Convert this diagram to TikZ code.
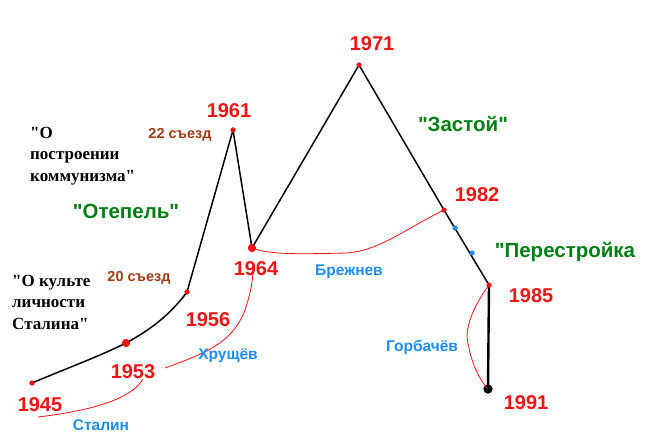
\documentclass[tikz,border=0pt]{standalone}
\usepackage{fontspec}
\setmainfont{Liberation Sans}[Ligatures=TeXOff]
\newfontfamily\serifbold{Liberation Serif}
\newcommand\qmark{{\char34}}
\definecolor{yred}{RGB}{240,20,20}
\definecolor{pgreen}{RGB}{0,128,20}
\definecolor{lblue}{RGB}{30,140,240}
\definecolor{cbrown}{RGB}{160,60,20}
\tikzset{
  year/.style={font=\bfseries\fontsize{20}{20}\selectfont, text=yred, inner sep=0pt},
  period/.style={font=\bfseries\fontsize{20.5}{20}\selectfont, text=pgreen, inner sep=0pt},
  leader/.style={font=\bfseries\fontsize{15.5}{15}\selectfont, text=lblue, inner sep=0pt},
  congress/.style={font=\bfseries\fontsize{14.5}{14}\selectfont, text=cbrown, inner sep=0pt},
  quote/.style={font=\serifbold\bfseries\fontsize{17}{21.5}\selectfont, align=left, inner sep=0pt, anchor=north west},
  pt/.style={circle, fill=yred, inner sep=0pt, minimum size=5pt},
  bigpt/.style={circle, fill=yred, inner sep=0pt, minimum size=8pt},
  bluept/.style={circle, fill=lblue, inner sep=0pt, minimum size=5pt},
  blackpt/.style={circle, fill=black, inner sep=0pt, minimum size=9pt},
  path/.style={black, line width=1.5pt},
  era/.style={yred, line width=0.8pt},
}
\begin{document}
\begin{tikzpicture}[x=1pt,y=-1pt]
\useasboundingbox[fill=white] (0,0) rectangle (668,447);
% points
\node[pt] (p45) at (32,383) {};
\node[bigpt] (p53) at (126,343) {};
\node[pt] (p56) at (187,292) {};
\node[pt] (p61) at (233,130) {};
\node[bigpt] (p64) at (252,248) {};
\node[pt] (p71) at (359,65) {};
\node[pt] (p82) at (444,210) {};
\node[bluept] (b1) at (455,228) {};
\node[bluept] (b2) at (472,253) {};
\node[pt] (p85) at (489,285) {};
\node[blackpt] (p91) at (488,389) {};
% main line
\draw[path] (p45.center) .. controls (70,367) and (100,356) .. (p53.center)
  .. controls (150,330) and (170,315) .. (p56.center)
  -- (p61.center) -- (p64.center) -- (p71.center) -- (p82.center) -- (p85.center);
\draw[black, line width=2.4pt] (p85.center) -- (p91.center);
\foreach \n in {p45,p53,p56,p61,p64,p71,p82,p85} \node[pt] at (\n) {};
\node[bigpt] at (p53) {};
\node[bigpt] at (p64) {};
\node[bluept] at (b1) {};
\node[bluept] at (b2) {};
\node[blackpt] at (p91) {};
% era curves
\coordinate (s1) at (38,417);
\coordinate (s2) at (143,379);
\draw[era] (s1) .. controls (80,412) and (130,402) .. (s2);
\coordinate (h1) at (165,368);
\coordinate (h2) at (253,273);
\draw[era] (h1) .. controls (200,355) and (232,345) .. (245,310) .. controls (250,295) and (252,285) .. (h2);
\draw[era] (p64.center) .. controls (270,255) and (300,254) .. (347,253) .. controls (380,250) and (400,232) .. (p82.center);
\draw[era] (p85.center) .. controls (478,300) and (467,320) .. (467,337) .. controls (470,360) and (478,378) .. (p91.center);
% year labels
\node[year] (y45) at (40,405) {1945};
\node[year] (y53) at (133,372) {1953};
\node[year] (y56) at (208,320) {1956};
\node[year] (y61) at (229,111) {1961};
\node[year] (y64) at (256,269) {1964};
\node[year] (y71) at (372,44) {1971};
\node[year] (y82) at (477,195) {1982};
\node[year] (y85) at (531,296) {1985};
\node[year] (y91) at (526,403) {1991};
% congress
\node[congress] (c20) at (139,278) {20 съезд};
\node[congress] (c22) at (180,135) {22 съезд};
% quotes
\node[quote] (q1) at (30,127) {\qmark О\\построении\\коммунизма\qmark};
\node[quote] (q2) at (12,275) {\qmark О культе\\личности\\Сталина\qmark};
% periods
\node[period] (e1) at (126,211) {\qmark Отепель\qmark};
\node[period] (e2) at (463,124) {\qmark Застой\qmark};
\node[period] (e3) at (565,252) {\qmark Перестройка};
% leaders
\node[leader] (l1) at (101,425) {Сталин};
\node[leader] (l2) at (228,356) {Хрущёв};
\node[leader] (l3) at (349,272) {Брежнев};
\node[leader] (l4) at (422,347) {Горбачёв};
\end{tikzpicture}
\end{document}
